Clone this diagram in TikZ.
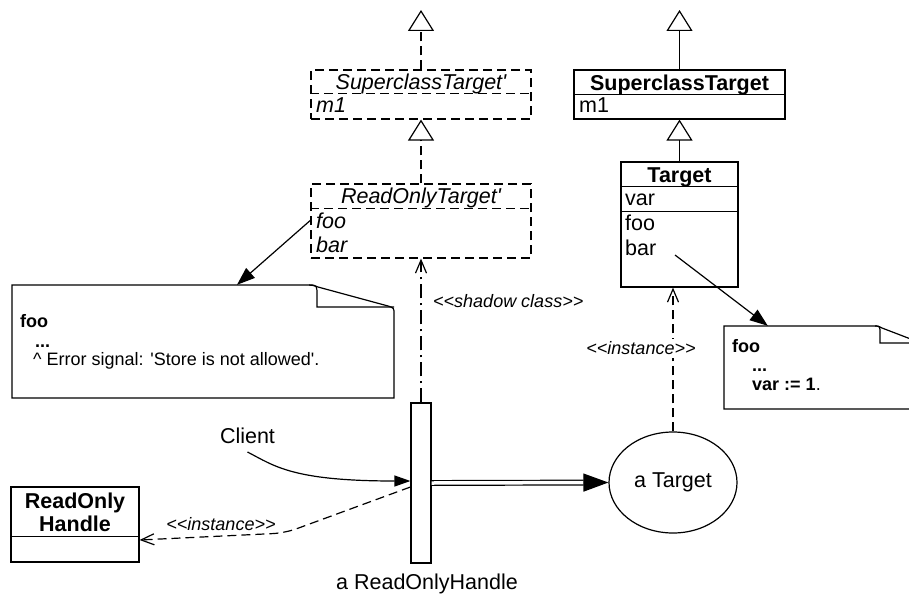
\documentclass[tikz,border=0pt]{standalone}
\usepackage{fontspec}
\setmainfont{Liberation Sans}
\usetikzlibrary{positioning,arrows.meta,shapes.geometric}

\newcommand\fsmain{\fontsize{21.5}{25}\selectfont}
\newcommand\fssmall{\fontsize{18}{21}\selectfont}
\newcommand\stereotxt[1]{\textless\kern0pt\textless#1\textgreater\kern0pt\textgreater}

\tikzset{
    cls/.style={draw, line width=1.2pt, inner sep=0pt},
    shcls/.style={cls, dash pattern=on 9pt off 5pt},
    ttl/.style={inner sep=0pt, anchor=base},
    mem/.style={inner sep=0pt, anchor=base west},
    stereo/.style={inner sep=0pt, font=\fssmall\itshape},
    ntxt/.style={inner sep=0pt, anchor=base west, font=\fssmall},
    gen/.style={line width=1.2pt, -{Triangle[open, length=21pt, width=26pt]}},
    shgen/.style={gen, dash pattern=on 9pt off 5pt},
    inst/.style={line width=1.2pt, dash pattern=on 9pt off 5pt, -{Straight Barb[length=13pt, width=11pt]}},
    shadowarr/.style={inst, dash pattern=on 14pt off 5pt on 2pt off 5pt},
    link/.style={line width=1.2pt, -{Triangle[length=18pt, width=13pt]}},
    dbl/.style={line width=1.2pt, double, double distance=3.5pt, -{Triangle[length=25pt, width=18pt]}}
}

\begin{document}
\begin{tikzpicture}[x=1pt, y=-1pt, font=\fsmain]
    \useasboundingbox (0,0) rectangle (909,594);
    \clip (0,0) rectangle (909,594);

    \node[shcls, minimum width=220pt, minimum height=49pt] (sp) at (421,94.5) {};
    \draw[shcls] ([yshift=-24pt]sp.north west) -- ([yshift=-24pt]sp.north east);
    \node[ttl, font=\fsmain\itshape] (spn) at (421,89) {SuperclassTarget\textquotesingle};
    \node[mem, font=\fsmain\itshape] (spm) at (316,112) {m1};
    \coordinate (sptop) at (421,10);

    \node[shcls, minimum width=220pt, minimum height=74pt] (rp) at (421,221) {};
    \draw[shcls] ([yshift=-25pt]rp.north west) -- ([yshift=-25pt]rp.north east);
    \node[ttl, font=\fsmain\itshape] (rpn) at (421,203) {ReadOnlyTarget\textquotesingle};
    \node[mem, font=\fsmain\itshape] (rfoo) at (316,228) {foo};
    \node[mem, font=\fsmain\itshape] (rbar) at (316,252) {bar};

    \draw[shgen] (sp.north) -- (sptop);
    \draw[shgen] (rp.north) -- (sp.south);

    \node[cls, minimum width=211pt, minimum height=49pt] (sc) at (679.5,94.5) {};
    \draw[cls] ([yshift=-25pt]sc.north west) -- ([yshift=-25pt]sc.north east);
    \node[ttl, font=\fsmain\bfseries] (scn) at (679.5,90) {SuperclassTarget};
    \node[mem] (scm) at (579,112) {m1};
    \coordinate (sctop) at (679.5,10);

    \node[cls, minimum width=117pt, minimum height=125pt] (tg) at (679.5,224.5) {};
    \draw[cls] ([yshift=-25pt]tg.north west) -- ([yshift=-25pt]tg.north east);
    \draw[cls] ([yshift=-50pt]tg.north west) -- ([yshift=-50pt]tg.north east);
    \node[ttl, font=\fsmain\bfseries] (tgn) at (679.5,182) {Target};
    \node[mem] (tvar) at (625,205) {var};
    \node[mem] (tfoo) at (625,230) {foo};
    \node[mem] (tbar) at (625,255) {bar};
    \coordinate (tbarend) at (675,255);

    \draw[gen] (sc.north) -- (sctop);
    \draw[gen] (tg.north) -- (sc.south);

    \node[inner sep=0pt, minimum width=382pt, minimum height=113pt] (nl) at (203,341.5) {};
    \draw[line width=1.2pt] (12,285) -- (308,285) .. controls (312,285) .. (318,287)
        -- (388,306) .. controls (394,308) .. (394,314) -- (394,398) -- (12,398) -- cycle;
    \draw[line width=1.2pt] (309,285) .. controls (317,285) .. (317,296) -- (317,307) -- (394,307);
    \node[ntxt, font=\fssmall\bfseries] (nlfoo) at (20,327) {foo};
    \node[ntxt, font=\fssmall\bfseries] (nldots) at (35,347) {...};
    \node[ntxt] (nlerr) at (33,365) {\textasciicircum{} Error signal: \textquotesingle Store is not allowed\textquotesingle.};

    \node[inner sep=0pt, minimum width=236pt, minimum height=83pt] (nr) at (842,367.5) {};
    \draw[line width=1.2pt] (724,326) -- (874,326) .. controls (878,326) .. (882,328)
        -- (955,356) .. controls (960,358) .. (960,363) -- (960,409) -- (724,409) -- cycle;
    \draw[line width=1.2pt] (875,326) .. controls (880,326) .. (880,334) -- (880,343) -- (960,343);
    \node[ntxt, font=\fssmall\bfseries] (nrfoo) at (732,352) {foo};
    \node[ntxt, font=\fssmall\bfseries] (nrdots) at (752,371) {...};
    \node[ntxt] (nrvar) at (752,390) {\textbf{var := 1}.};

    \draw[link] (rp.west |- rfoo) -- ([xshift=34pt]nl.north);
    \draw[link] (tbarend) -- ([xshift=44pt]nr.north west);

    \node[cls, minimum width=20pt, minimum height=160pt] (h) at (421,483) {};
    \node[inner sep=0pt, below=10pt of h, xshift=6pt] (hl) {a ReadOnlyHandle};

    \node[draw, ellipse, line width=1.2pt, minimum width=128pt, minimum height=101pt, inner sep=0pt] (o) at (673,482.5) {a Target};

    \node[cls, minimum width=128pt, minimum height=75pt] (hc) at (75,524.5) {};
    \draw[cls] ([yshift=-50pt]hc.north west) -- ([yshift=-50pt]hc.north east);
    \node[ttl, font=\fsmain\bfseries] (hcn1) at (75,508) {ReadOnly};
    \node[ttl, font=\fsmain\bfseries] (hcn2) at (75,531) {Handle};

    \node[ttl] (cl) at (247.5,443) {Client};
    \draw[link, -{Triangle[length=16pt, width=11pt]}] ([yshift=-9pt]cl.base) .. controls +(27,14) and +(-118,0) .. ([yshift=2pt]h.west);

    \draw[dbl] (h.east) -- (o.west);

    \draw[shadowarr] (h.north) -- (rp.south);
    \node[stereo, anchor=west] (sl) at (433,301) {\stereotxt{shadow class}};

    \draw[inst] (o.north) -- (o.north |- tg.south);
    \node[stereo, fill=white, inner sep=3pt] (il) at (641,348.5) {\stereotxt{instance}};

    \draw[inst, rounded corners=12pt] ([yshift=-4pt]h.west) -- (285,533) -- ([yshift=-15.5pt]hc.east);
    \node[stereo] (hil) at (221,524) {\stereotxt{instance}};
\end{tikzpicture}
\end{document}
